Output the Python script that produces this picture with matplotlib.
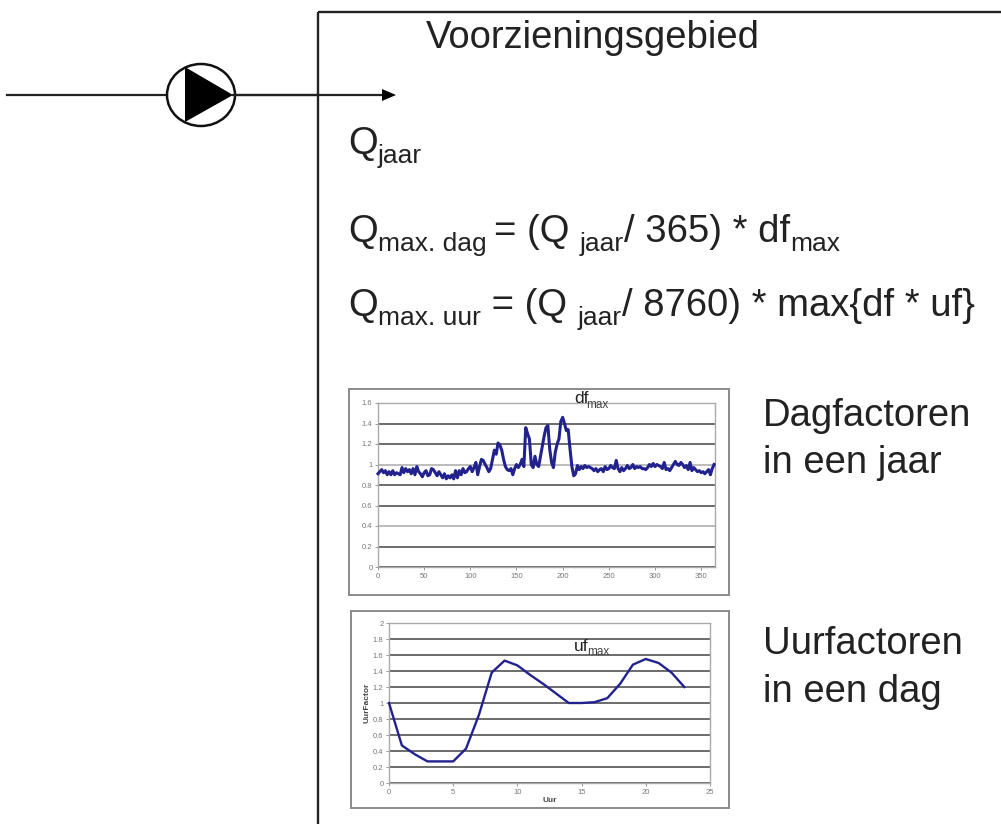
import numpy as np
from matplotlib import pyplot as plt
from matplotlib.patches import Ellipse, Polygon, Rectangle

W, H = 1001, 824

# dagfactoren, read every second day
df_values = [
    .91, .93, .95, .92, .94, .90, .93, .90, .94, .90,
    .92, .91, .90, .97, .92, .96, .93, .95, .91, .96,
    .90, .98, .93, .91, .88, .92, .94, .89, .90, .96,
    .95, .92, .89, .93, .90, .87, .91, .86, .89, .87,
    .90, .86, .94, .87, .94, .90, .96, .92, .93, .96,
    .98, .93, .97, 1.02, .90, .98, 1.05, 1.04, 1.0, .97,
    .93, .96, 1.05, 1.14, 1.10, 1.21, 1.19, 1.14, 1.05, .98,
    .95, .94, .96, .90, .96, 1.0, .97, 1.0, 1.05, .98,
    1.36, 1.30, 1.25, 1.0, .97, 1.08, 1.0, .98, 1.08, 1.18,
    1.28, 1.36, 1.38, 1.15, 1.02, .97, 1.12, 1.20, 1.25, 1.42,
    1.46, 1.40, 1.33, 1.34, 1.15, .98, .89, .91, .99, .95,
    .98, .96, .99, .97, .98, .97, .96, .94, .96, .93,
    .95, .96, .93, .98, .95, .96, .99, .97, .96, 1.04,
    .96, .93, .97, .94, .96, .99, .96, .97, 1.0, .96,
    .98, .97, .98, .96, .96, .95, .97, 1.0, .98, 1.01,
    .98, 1.0, .99, .98, .96, 1.02, .95, .96, .94, .97,
    1.0, 1.03, 1.0, .99, 1.02, 1.0, .97, .99, .95, 1.02,
    .94, .97, .95, .93, .94, .92, .93, .91, .93, .95,
    .90, .96, 1.0,
]
df_days = np.arange(len(df_values)) * 2

# uurfactoren per uur
uf_values = [1.0, .47, .36, .27, .27, .27, .43, .85, 1.38, 1.53, 1.47, 1.35,
             1.24, 1.12, 1.0, 1.0, 1.01, 1.06, 1.24, 1.48, 1.55, 1.5, 1.38, 1.2]
uf_hours = np.arange(len(uf_values))

df_xticks = [0, 50, 100, 150, 200, 250, 300, 350]
df_yticks = [0, .2, .4, .6, .8, 1, 1.2, 1.4, 1.6]
df_ylabels = ['0', '0.2', '0.4', '0.6', '0.8', '1', '1.2', '1.4', '1.6']
uf_xticks = [0, 5, 10, 15, 20, 25]
uf_yticks = [0, .2, .4, .6, .8, 1, 1.2, 1.4, 1.6, 1.8, 2]
uf_ylabels = ['0', '0.2', '0.4', '0.6', '0.8', '1', '1.2', '1.4', '1.6', '1.8', '2']

plt.rcParams['font.family'] = ['Liberation Sans', 'DejaVu Sans']

fig = plt.figure(figsize=(W / 100, H / 100), dpi=100)
bg = fig.add_axes([0, 0, 1, 1])
bg.set_xlim(0, W)
bg.set_ylim(H, 0)
bg.axis('off')


def rich_text(x, y, runs, size=27.5, sub_size=19, drop=9, color='#222222'):
    # text with subscripts, run after run on one baseline
    r = fig.canvas.get_renderer()
    for s, is_sub in runs:
        t = bg.text(x, y + (drop if is_sub else 0), s.replace(' ', '\u00a0'), va='baseline', ha='left',
                    color=color, fontsize=sub_size if is_sub else size, zorder=6)
        x += t.get_window_extent(r).width


def chart(box, frame, x, y, xticks, yticks, ylabels, xmax, ymax, lw):
    bg.add_patch(Rectangle((frame[0], frame[1]), frame[2] - frame[0], frame[3] - frame[1],
                           fc='white', ec='#8a8a8a', lw=1.4))
    ax = fig.add_axes([box[0] / W, 1 - box[3] / H, (box[2] - box[0]) / W, (box[3] - box[1]) / H])
    ax.plot(x, y, color='#22228f', lw=lw, zorder=3, clip_on=False)
    ax.set_xlim(0, xmax)
    ax.set_ylim(0, ymax)
    ax.set_xticks(xticks)
    ax.set_yticks(yticks)
    ax.set_yticklabels(ylabels)
    ax.grid(axis='y', color='#444444', lw=1.1)
    ax.set_axisbelow(True)
    ax.tick_params(labelsize=5.5, labelcolor='#777777', length=2, width=.6, color='#888888', pad=2)
    for name, spine in ax.spines.items():
        spine.set_color('#aaaaaa')
        spine.set_linewidth(1)
    ax.patch.set_alpha(0)
    return ax


# box of the supply area
bg.plot([318, 318], [824, 12], color='#222222', lw=1.7, solid_capstyle='butt')
bg.plot([318, 1001], [12, 12], color='#222222', lw=1.7, solid_capstyle='butt')

# pipe with pump and arrow
bg.plot([7, 385], [95, 95], color='#222222', lw=1.6, zorder=2)
bg.add_patch(Polygon([[382, 89], [396, 95], [382, 101]], fc='black', ec='none', zorder=3))
bg.add_patch(Ellipse((201, 95), 68, 62, fc='white', ec='#111111', lw=1.8, zorder=3))
bg.add_patch(Polygon([[185, 67], [185, 122], [233, 95]], fc='black', ec='none', zorder=4))
bg.plot([233, 318], [95, 95], color='#222222', lw=1.6, zorder=4)

bg.text(426, 48, 'Voorzieningsgebied', fontsize=27.5, color='#222222', va='baseline')
rich_text(348, 154, [('Q', False), ('jaar', True)])
rich_text(348, 242, [('Q', False), ('max. dag ', True), ('= (Q ', False), ('jaar', True),
                     ('/ 365) * df', False), ('max', True)])
rich_text(348, 316, [('Q', False), ('max. uur', True), (' = (Q ', False), ('jaar', True),
                     ('/ 8760) * max{df * uf}', False)])

for label, ypos in [('Dagfactoren', 426), ('in een jaar', 473), ('Uurfactoren', 654), ('in een dag', 702)]:
    bg.text(763, ypos, label, fontsize=27.5, color='#222222', va='baseline')

ax_df = chart((378, 403, 715, 567), (349, 389, 729, 595), df_days, df_values,
              df_xticks, df_yticks, df_ylabels, 365, 1.6, 2.2)
# these two rules come out pale in the reference
ax_df.get_ygridlines()[2].set_color('#aaaaaa')
ax_df.get_ygridlines()[5].set_color('#aaaaaa')
ax_uf = chart((389, 623, 710, 783), (351, 611, 729, 808), uf_hours, uf_values,
              uf_xticks, uf_yticks, uf_ylabels, 25, 2, 1.7)
ax_uf.set_xlabel('Uur', fontsize=6, fontweight='bold', color='#444444', labelpad=1)
ax_uf.set_ylabel('UurFactor', fontsize=6, fontweight='bold', color='#444444', labelpad=2)

# the overlay stays on top of the small charts for the max labels
top = fig.add_axes([0, 0, 1, 1])
top.set_xlim(0, W)
top.set_ylim(H, 0)
top.axis('off')
top.patch.set_alpha(0)
top.text(574, 403, 'df', fontsize=12.5, color='#222222', va='baseline')
top.text(586, 408, 'max', fontsize=8.5, color='#444444', va='baseline')
top.text(574, 651, 'uf', fontsize=12.5, color='#222222', va='baseline')
top.text(587, 655, 'max', fontsize=8.5, color='#444444', va='baseline')

fig.savefig('out.png', dpi=100)
